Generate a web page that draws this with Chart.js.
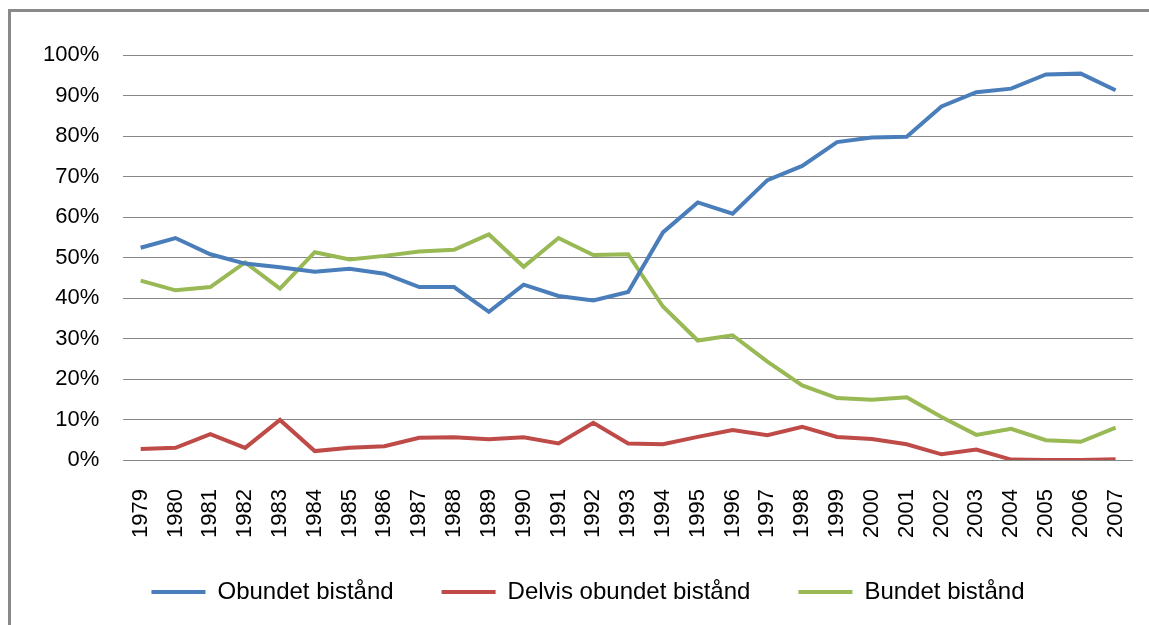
<!DOCTYPE html>
<html>
<head>
<meta charset="utf-8">
<script src="https://cdn.jsdelivr.net/npm/chart.js@4"></script>
<style>
  body { margin: 0; background: #fff; overflow: hidden; }
  .frame {
    position: absolute; left: 8px; top: 9px; width: 1200px; height: 700px;
    border-left: 3px solid #898989; border-top: 3px solid #898989;
  }
  .wrap { position: absolute; left: 0; top: 0; width: 1149px; height: 625px; }
</style>
</head>
<body>
<div class="frame"></div>
<div class="wrap"><canvas id="chart"></canvas></div>
<script>
const years = ["1979","1980","1981","1982","1983","1984","1985","1986","1987","1988",
  "1989","1990","1991","1992","1993","1994","1995","1996","1997","1998",
  "1999","2000","2001","2002","2003","2004","2005","2006","2007"];

const obundet = [52.4, 54.8, 50.8, 48.5, 47.6, 46.5, 47.2, 46.0, 42.7, 42.7,
  36.6, 43.3, 40.5, 39.4, 41.5, 56.2, 63.6, 60.8, 69.1, 72.6,
  78.5, 79.6, 79.8, 87.3, 90.8, 91.7, 95.2, 95.4, 91.3];

const delvis = [2.7, 3.0, 6.4, 3.0, 9.9, 2.2, 3.0, 3.4, 5.5, 5.6,
  5.1, 5.6, 4.1, 9.2, 4.1, 3.9, 5.7, 7.4, 6.1, 8.2,
  5.7, 5.2, 3.9, 1.4, 2.6, 0.1, 0, 0, 0.2];

const bundet = [44.3, 41.9, 42.7, 48.8, 42.3, 51.3, 49.5, 50.4, 51.5, 51.9,
  55.7, 47.7, 54.8, 50.6, 50.8, 37.9, 29.5, 30.8, 24.3, 18.4,
  15.3, 14.9, 15.5, 10.6, 6.2, 7.7, 4.9, 4.5, 8.0];

const yTicks = [0, 10, 20, 30, 40, 50, 60, 70, 80, 90, 100];

const blue = "#4a7ebb";
const red = "#be4b48";
const green = "#98b954";

function series(label, data, color) {
  return {
    label: label,
    data: data,
    borderColor: color,
    backgroundColor: color,
    borderWidth: 4,
    pointRadius: 0,
    pointStyle: "line",
    tension: 0
  };
}

// legend is taller than needed because of the wide item spacing; pin its height
// and nudge it to where the original sits
const legendFit = {
  id: "legendFit",
  beforeInit(chart) {
    const fit = chart.legend.fit;
    chart.legend.fit = function () {
      fit.call(this);
      this.height = 85;
    };
  },
  afterLayout(chart) {
    const lg = chart.legend;
    lg.top -= 8;
    lg.bottom -= 8;
    lg.left += 12;
    lg.right += 12;
  }
};

Chart.defaults.font.family = "'Liberation Sans', Arial, sans-serif";
Chart.defaults.color = "#000";

new Chart(document.getElementById("chart"), {
  type: "line",
  data: {
    labels: years,
    datasets: [
      series("Obundet bistånd", obundet, blue),
      series("Delvis obundet bistånd", delvis, red),
      series("Bundet bistånd", bundet, green)
    ]
  },
  plugins: [legendFit],
  options: {
    responsive: true,
    maintainAspectRatio: false,
    animation: false,
    layout: { padding: { top: 55, right: 16, left: 19, bottom: 0 } },
    plugins: {
      tooltip: { enabled: false },
      legend: {
        position: "bottom",
        labels: {
          usePointStyle: true,
          pointStyle: "line",
          pointStyleWidth: 54,
          padding: 48,
          font: { size: 24 }
        }
      }
    },
    scales: {
      x: {
        offset: true,
        grid: { display: false },
        border: { display: false },
        afterFit: function (axis) {
          axis.height = 80;
          axis.paddingRight = 0;
          axis.paddingLeft = 0;
        },
        ticks: {
          minRotation: 90,
          maxRotation: 90,
          autoSkip: false,
          padding: 21,
          font: { size: 22 }
        }
      },
      y: {
        min: 0,
        max: 100,
        afterBuildTicks: function (axis) {
          axis.ticks = yTicks.map(function (v) { return { value: v }; });
        },
        grid: { color: "#868686", lineWidth: 1, drawTicks: false },
        border: { display: false },
        ticks: {
          padding: 24,
          font: { size: 22 },
          callback: function (v) { return v + "%"; }
        }
      }
    }
  }
});
</script>
</body>
</html>
